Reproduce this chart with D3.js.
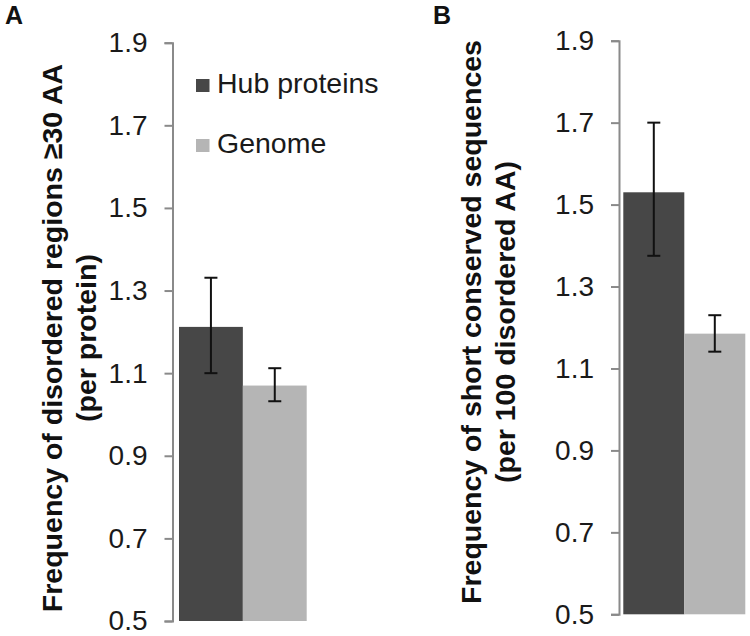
<!DOCTYPE html>
<html>
<head>
<meta charset="utf-8">
<script src="https://cdn.jsdelivr.net/npm/d3@7"></script>
<style>
  body { margin: 0; background: #fff; }
  svg { font-family: "Liberation Sans", Arial, sans-serif; }
</style>
</head>
<body>
<svg id="chart" width="750" height="636"></svg>
<script>
// data
const series = ["Hub proteins", "Genome"];
const colors = ["#474747", "#b5b5b5"];
const yTicks = [0.5, 0.7, 0.9, 1.1, 1.3, 1.5, 1.7, 1.9];

const valuesA = [1.212, 1.070];
const lowA = [1.100, 1.032];
const highA = [1.331, 1.112];

const valuesB = [1.530, 1.185];
const lowB = [1.375, 1.141];
const highB = [1.700, 1.230];

const labelA = ["Frequency of disordered regions \u226530 AA", "(per protein)"];
const labelB = ["Frequency of short conserved sequences", "(per 100 disordered AA)"];

const svg = d3.select("#chart");

function panel(opts) {
  const y = d3.scaleLinear().domain([0.5, 1.9]).range([opts.y0, opts.y1]);
  const x = d3.scaleBand().domain(series).range([opts.x0, opts.x1]).padding(0);

  const axis = d3.axisLeft(y).tickValues(yTicks).tickFormat(d3.format(".1f"))
    .tickSize(8).tickPadding(17);

  const g = svg.append("g")
    .attr("transform", `translate(${opts.axisX},0)`)
    .call(axis);
  g.select(".domain").attr("stroke", "#8a8a8a").attr("stroke-width", 2);
  g.selectAll(".tick line").attr("stroke", "#8a8a8a").attr("stroke-width", 2);
  g.selectAll(".tick text").attr("fill", "#1a1a1a").style("font-size", "28px");

  const data = series.map((s, i) => ({ s, v: opts.values[i], lo: opts.low[i], hi: opts.high[i], c: colors[i] }));

  svg.append("g").selectAll("rect")
    .data(data)
    .enter()
    .append("rect")
    .attr("x", d => x(d.s))
    .attr("width", x.bandwidth())
    .attr("y", d => y(d.v))
    .attr("height", d => y(0.5) - y(d.v))
    .attr("fill", d => d.c);

  const err = svg.append("g").attr("stroke", "#111").attr("stroke-width", 2);
  data.forEach(d => {
    const cx = x(d.s) + x.bandwidth() / 2;
    err.append("line").attr("x1", cx).attr("x2", cx).attr("y1", y(d.lo)).attr("y2", y(d.hi));
    err.append("line").attr("x1", cx - 6.5).attr("x2", cx + 6.5).attr("y1", y(d.lo)).attr("y2", y(d.lo));
    err.append("line").attr("x1", cx - 6.5).attr("x2", cx + 6.5).attr("y1", y(d.hi)).attr("y2", y(d.hi));
  });

  // y label, two lines rotated
  opts.label.forEach((t, i) => {
    svg.append("text")
      .attr("transform", `translate(${opts.labelX[i]},${opts.labelY}) rotate(-90)`)
      .attr("text-anchor", "middle")
      .style("font-size", "28.5px")
      .style("font-weight", "bold")
      .attr("fill", "#111")
      .text(t);
  });

  svg.append("text")
    .attr("x", opts.letterX).attr("y", 24)
    .style("font-size", "25px").style("font-weight", "bold")
    .attr("fill", "#111")
    .text(opts.letter);
}

panel({
  letter: "A", letterX: 5,
  axisX: 172.5, y0: 621, y1: 42.7,
  x0: 179, x1: 306.7,
  values: valuesA, low: lowA, high: highA,
  label: labelA, labelX: [62, 96], labelY: 338
});

panel({
  letter: "B", letterX: 433,
  axisX: 619, y0: 614.3, y1: 40.7,
  x0: 623.3, x1: 745.3,
  values: valuesB, low: lowB, high: highB,
  label: labelB, labelX: [481, 515], labelY: 322
});

// legend (panel A)
const legend = svg.append("g");
series.forEach((s, i) => {
  legend.append("rect")
    .attr("x", 196).attr("y", 79 + i * 60)
    .attr("width", 13.5).attr("height", 13)
    .attr("fill", colors[i]);
  legend.append("text")
    .attr("x", 217).attr("y", 93 + i * 60)
    .style("font-size", "28.5px")
    .attr("fill", "#1a1a1a")
    .text(s);
});
</script>
</body>
</html>
